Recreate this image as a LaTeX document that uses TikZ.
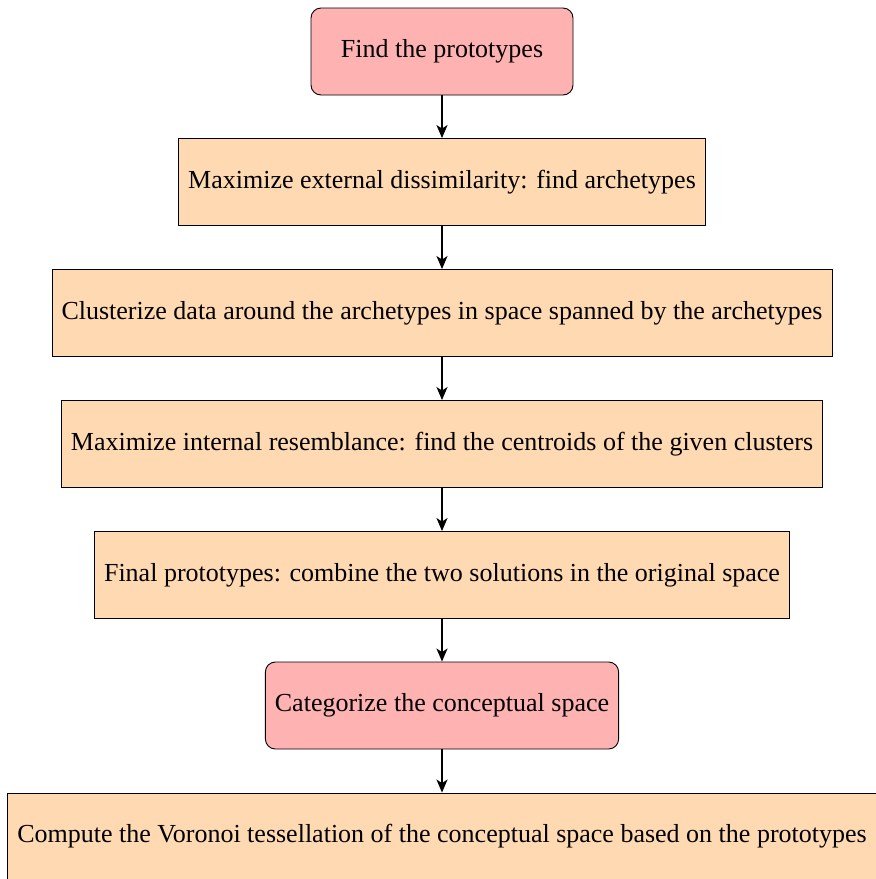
\documentclass[tikz,border=0pt]{standalone}
\usepackage{fontspec}
\setmainfont{Liberation Serif}
\usetikzlibrary{arrows.meta}
\tikzset{
  box/.style={draw=black, line width=0.9pt, fill=orange!30, minimum height=87pt,
    inner xsep=9.5pt, font=\fontsize{26}{31}\selectfont, anchor=center},
  rbox/.style={box, fill=red!30, rounded corners=10pt},
  flow/.style={line width=1.8pt, -{Stealth[length=13pt,width=11pt,inset=3.5pt]}}
}
\begin{document}
\begin{tikzpicture}[x=1pt,y=-1pt]
\useasboundingbox (0,0) rectangle (876,879);
\clip (0,0) rectangle (876,879);
\node[rbox, minimum width=262pt] (n1) at (442,51.5) {Find the prototypes};
\node[box] (n2) at (442,182) {Maximize external dissimilarity: find archetypes};
\node[box] (n3) at (442,313) {Clusterize data around the archetypes in space spanned by the archetypes};
\node[box] (n4) at (442,444) {Maximize internal resemblance: find the centroids of the given clusters};
\node[box] (n5) at (442,575) {Final prototypes: combine the two solutions in the original space};
\node[rbox] (n6) at (442,705.5) {Categorize the conceptual space};
\node[box] (n7) at (442,836.5) {Compute the Voronoi tessellation of the conceptual space based on the prototypes};
\draw[flow] (n1) -- (n2);
\draw[flow] (n2) -- (n3);
\draw[flow] (n3) -- (n4);
\draw[flow] (n4) -- (n5);
\draw[flow] (n5) -- (n6);
\draw[flow] (n6) -- (n7);
\end{tikzpicture}
\end{document}
